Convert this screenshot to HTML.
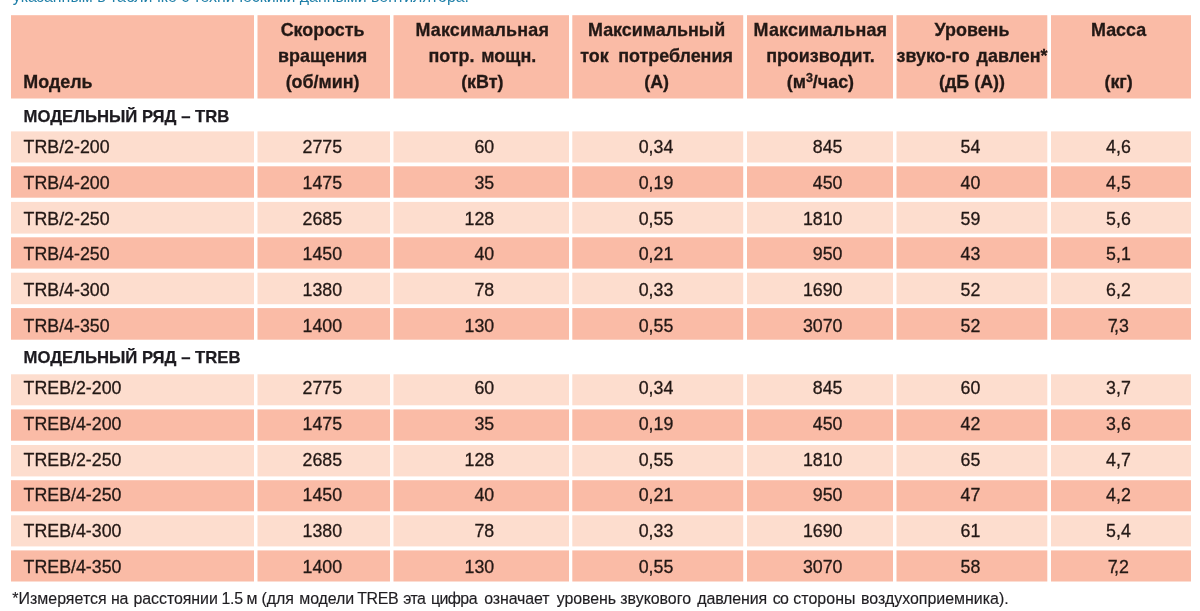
<!DOCTYPE html>
<html lang="ru"><head><meta charset="utf-8"><title>TRB / TREB</title>
<style>
html,body{margin:0;padding:0;background:#fff;}
body{width:1200px;height:611px;position:relative;overflow:hidden;font-family:"Liberation Sans",sans-serif;color:#231815;}
svg.bg{position:absolute;left:0;top:0;}
.t{position:absolute;white-space:nowrap;}
.h{font-weight:bold;font-size:17.9px;line-height:20px;text-align:center;width:200px;-webkit-text-stroke:0.3px #231815;}
.d{font-size:17.8px;line-height:20px;text-align:right;width:120px;-webkit-text-stroke:0.3px #231815;}
.m{font-size:17.8px;line-height:20px;-webkit-text-stroke:0.3px #231815;}
.s{font-weight:bold;font-size:16.7px;line-height:19px;color:#1d1b20;-webkit-text-stroke:0.25px #1d1b20;}
.f{font-size:15.94px;line-height:17px;color:#1f1d21;-webkit-text-stroke:0.15px #1f1d21;}
.b{font-size:15.9px;line-height:17px;color:#1e7fa8;}
sup{font-size:0.7em;line-height:0;vertical-align:baseline;position:relative;top:-0.47em;}
</style></head><body>

<svg class="bg" width="1200" height="611" viewBox="0 0 1200 611">
<rect x="11.0" y="15.2" width="243.0" height="83.3" fill="#fabba6"/>
<rect x="257.5" y="15.2" width="132.5" height="83.3" fill="#fabba6"/>
<rect x="393.5" y="15.2" width="175.5" height="83.3" fill="#fabba6"/>
<rect x="572.3" y="15.2" width="170.9" height="83.3" fill="#fabba6"/>
<rect x="747.0" y="15.2" width="146.0" height="83.3" fill="#fabba6"/>
<rect x="896.5" y="15.2" width="150.8" height="83.3" fill="#fabba6"/>
<rect x="1051.0" y="15.2" width="140.0" height="83.3" fill="#fabba6"/>
<rect x="11.0" y="131.4" width="243.0" height="31.1" fill="#fdddce"/>
<rect x="257.5" y="131.4" width="132.5" height="31.1" fill="#fdddce"/>
<rect x="393.5" y="131.4" width="175.5" height="31.1" fill="#fdddce"/>
<rect x="572.3" y="131.4" width="170.9" height="31.1" fill="#fdddce"/>
<rect x="747.0" y="131.4" width="146.0" height="31.1" fill="#fdddce"/>
<rect x="896.5" y="131.4" width="150.8" height="31.1" fill="#fdddce"/>
<rect x="1051.0" y="131.4" width="140.0" height="31.1" fill="#fdddce"/>
<rect x="11.0" y="166.3" width="243.0" height="31.4" fill="#fabba6"/>
<rect x="257.5" y="166.3" width="132.5" height="31.4" fill="#fabba6"/>
<rect x="393.5" y="166.3" width="175.5" height="31.4" fill="#fabba6"/>
<rect x="572.3" y="166.3" width="170.9" height="31.4" fill="#fabba6"/>
<rect x="747.0" y="166.3" width="146.0" height="31.4" fill="#fabba6"/>
<rect x="896.5" y="166.3" width="150.8" height="31.4" fill="#fabba6"/>
<rect x="1051.0" y="166.3" width="140.0" height="31.4" fill="#fabba6"/>
<rect x="11.0" y="201.9" width="243.0" height="31.7" fill="#fdddce"/>
<rect x="257.5" y="201.9" width="132.5" height="31.7" fill="#fdddce"/>
<rect x="393.5" y="201.9" width="175.5" height="31.7" fill="#fdddce"/>
<rect x="572.3" y="201.9" width="170.9" height="31.7" fill="#fdddce"/>
<rect x="747.0" y="201.9" width="146.0" height="31.7" fill="#fdddce"/>
<rect x="896.5" y="201.9" width="150.8" height="31.7" fill="#fdddce"/>
<rect x="1051.0" y="201.9" width="140.0" height="31.7" fill="#fdddce"/>
<rect x="11.0" y="237.3" width="243.0" height="31.3" fill="#fabba6"/>
<rect x="257.5" y="237.3" width="132.5" height="31.3" fill="#fabba6"/>
<rect x="393.5" y="237.3" width="175.5" height="31.3" fill="#fabba6"/>
<rect x="572.3" y="237.3" width="170.9" height="31.3" fill="#fabba6"/>
<rect x="747.0" y="237.3" width="146.0" height="31.3" fill="#fabba6"/>
<rect x="896.5" y="237.3" width="150.8" height="31.3" fill="#fabba6"/>
<rect x="1051.0" y="237.3" width="140.0" height="31.3" fill="#fabba6"/>
<rect x="11.0" y="272.7" width="243.0" height="31.5" fill="#fdddce"/>
<rect x="257.5" y="272.7" width="132.5" height="31.5" fill="#fdddce"/>
<rect x="393.5" y="272.7" width="175.5" height="31.5" fill="#fdddce"/>
<rect x="572.3" y="272.7" width="170.9" height="31.5" fill="#fdddce"/>
<rect x="747.0" y="272.7" width="146.0" height="31.5" fill="#fdddce"/>
<rect x="896.5" y="272.7" width="150.8" height="31.5" fill="#fdddce"/>
<rect x="1051.0" y="272.7" width="140.0" height="31.5" fill="#fdddce"/>
<rect x="11.0" y="308.1" width="243.0" height="31.6" fill="#fabba6"/>
<rect x="257.5" y="308.1" width="132.5" height="31.6" fill="#fabba6"/>
<rect x="393.5" y="308.1" width="175.5" height="31.6" fill="#fabba6"/>
<rect x="572.3" y="308.1" width="170.9" height="31.6" fill="#fabba6"/>
<rect x="747.0" y="308.1" width="146.0" height="31.6" fill="#fabba6"/>
<rect x="896.5" y="308.1" width="150.8" height="31.6" fill="#fabba6"/>
<rect x="1051.0" y="308.1" width="140.0" height="31.6" fill="#fabba6"/>
<rect x="11.0" y="374.3" width="243.0" height="31.0" fill="#fdddce"/>
<rect x="257.5" y="374.3" width="132.5" height="31.0" fill="#fdddce"/>
<rect x="393.5" y="374.3" width="175.5" height="31.0" fill="#fdddce"/>
<rect x="572.3" y="374.3" width="170.9" height="31.0" fill="#fdddce"/>
<rect x="747.0" y="374.3" width="146.0" height="31.0" fill="#fdddce"/>
<rect x="896.5" y="374.3" width="150.8" height="31.0" fill="#fdddce"/>
<rect x="1051.0" y="374.3" width="140.0" height="31.0" fill="#fdddce"/>
<rect x="11.0" y="409.4" width="243.0" height="31.3" fill="#fabba6"/>
<rect x="257.5" y="409.4" width="132.5" height="31.3" fill="#fabba6"/>
<rect x="393.5" y="409.4" width="175.5" height="31.3" fill="#fabba6"/>
<rect x="572.3" y="409.4" width="170.9" height="31.3" fill="#fabba6"/>
<rect x="747.0" y="409.4" width="146.0" height="31.3" fill="#fabba6"/>
<rect x="896.5" y="409.4" width="150.8" height="31.3" fill="#fabba6"/>
<rect x="1051.0" y="409.4" width="140.0" height="31.3" fill="#fabba6"/>
<rect x="11.0" y="445.0" width="243.0" height="31.4" fill="#fdddce"/>
<rect x="257.5" y="445.0" width="132.5" height="31.4" fill="#fdddce"/>
<rect x="393.5" y="445.0" width="175.5" height="31.4" fill="#fdddce"/>
<rect x="572.3" y="445.0" width="170.9" height="31.4" fill="#fdddce"/>
<rect x="747.0" y="445.0" width="146.0" height="31.4" fill="#fdddce"/>
<rect x="896.5" y="445.0" width="150.8" height="31.4" fill="#fdddce"/>
<rect x="1051.0" y="445.0" width="140.0" height="31.4" fill="#fdddce"/>
<rect x="11.0" y="480.2" width="243.0" height="31.1" fill="#fabba6"/>
<rect x="257.5" y="480.2" width="132.5" height="31.1" fill="#fabba6"/>
<rect x="393.5" y="480.2" width="175.5" height="31.1" fill="#fabba6"/>
<rect x="572.3" y="480.2" width="170.9" height="31.1" fill="#fabba6"/>
<rect x="747.0" y="480.2" width="146.0" height="31.1" fill="#fabba6"/>
<rect x="896.5" y="480.2" width="150.8" height="31.1" fill="#fabba6"/>
<rect x="1051.0" y="480.2" width="140.0" height="31.1" fill="#fabba6"/>
<rect x="11.0" y="515.3" width="243.0" height="31.1" fill="#fdddce"/>
<rect x="257.5" y="515.3" width="132.5" height="31.1" fill="#fdddce"/>
<rect x="393.5" y="515.3" width="175.5" height="31.1" fill="#fdddce"/>
<rect x="572.3" y="515.3" width="170.9" height="31.1" fill="#fdddce"/>
<rect x="747.0" y="515.3" width="146.0" height="31.1" fill="#fdddce"/>
<rect x="896.5" y="515.3" width="150.8" height="31.1" fill="#fdddce"/>
<rect x="1051.0" y="515.3" width="140.0" height="31.1" fill="#fdddce"/>
<rect x="11.0" y="550.4" width="243.0" height="31.1" fill="#fabba6"/>
<rect x="257.5" y="550.4" width="132.5" height="31.1" fill="#fabba6"/>
<rect x="393.5" y="550.4" width="175.5" height="31.1" fill="#fabba6"/>
<rect x="572.3" y="550.4" width="170.9" height="31.1" fill="#fabba6"/>
<rect x="747.0" y="550.4" width="146.0" height="31.1" fill="#fabba6"/>
<rect x="896.5" y="550.4" width="150.8" height="31.1" fill="#fabba6"/>
<rect x="1051.0" y="550.4" width="140.0" height="31.1" fill="#fabba6"/>
</svg>
<div class="t b" style="left:12.8px;top:-12px">указанным в табличке с техническими данными вентилятора.</div>
<div class="t h" style="left:23.3px;top:72px;text-align:left">Модель</div>
<div class="t h" style="left:222.6px;top:20px">Скорость</div>
<div class="t h" style="left:222.6px;top:46px">вращения</div>
<div class="t h" style="left:222.6px;top:72px">(об/мин)</div>
<div class="t h" style="left:382.3px;top:20px"><span style="letter-spacing:0.2px">Максимальная</span></div>
<div class="t h" style="left:382.3px;top:46px"><span style="word-spacing:2px">потр. мощн.</span></div>
<div class="t h" style="left:382.3px;top:72px">(кВт)</div>
<div class="t h" style="left:556.6px;top:20px">Максимальный</div>
<div class="t h" style="left:556.6px;top:46px"><span style="word-spacing:4.5px">ток потребления</span></div>
<div class="t h" style="left:556.6px;top:72px">(А)</div>
<div class="t h" style="left:720.4px;top:20px"><span style="letter-spacing:0.2px">Максимальная</span></div>
<div class="t h" style="left:720.4px;top:46px">производит.</div>
<div class="t h" style="left:720.4px;top:72px">(м<sup>3</sup>/час)</div>
<div class="t h" style="left:872.0px;top:20px">Уровень</div>
<div class="t h" style="left:872.0px;top:46px"><span style="word-spacing:2px">звуко-го давлен*</span></div>
<div class="t h" style="left:872.0px;top:72px">(дБ (А))</div>
<div class="t h" style="left:1018.6px;top:20px">Масса</div>
<div class="t h" style="left:1018.6px;top:72px">(кг)</div>
<div class="t s" style="left:23.5px;top:107px">МОДЕЛЬНЫЙ РЯД – TRB</div>
<div class="t m" style="left:23.6px;top:137px">TRB/2-200</div>
<div class="t d" style="left:222.1px;top:137px">2775</div>
<div class="t d" style="left:374.2px;top:137px">60</div>
<div class="t d" style="left:553.3px;top:137px">0,34</div>
<div class="t d" style="left:722.5px;top:137px">845</div>
<div class="t d" style="left:860.3px;top:137px">54</div>
<div class="t d" style="left:1010.8px;top:137px">4,6</div>
<div class="t m" style="left:23.6px;top:173px">TRB/4-200</div>
<div class="t d" style="left:222.1px;top:173px">1475</div>
<div class="t d" style="left:374.2px;top:173px">35</div>
<div class="t d" style="left:553.3px;top:173px">0,19</div>
<div class="t d" style="left:722.5px;top:173px">450</div>
<div class="t d" style="left:860.3px;top:173px">40</div>
<div class="t d" style="left:1010.8px;top:173px">4,5</div>
<div class="t m" style="left:23.6px;top:209px">TRB/2-250</div>
<div class="t d" style="left:222.1px;top:209px">2685</div>
<div class="t d" style="left:374.2px;top:209px">128</div>
<div class="t d" style="left:553.3px;top:209px">0,55</div>
<div class="t d" style="left:722.5px;top:209px">1810</div>
<div class="t d" style="left:860.3px;top:209px">59</div>
<div class="t d" style="left:1010.8px;top:209px">5,6</div>
<div class="t m" style="left:23.6px;top:244px">TRB/4-250</div>
<div class="t d" style="left:222.1px;top:244px">1450</div>
<div class="t d" style="left:374.2px;top:244px">40</div>
<div class="t d" style="left:553.3px;top:244px">0,21</div>
<div class="t d" style="left:722.5px;top:244px">950</div>
<div class="t d" style="left:860.3px;top:244px">43</div>
<div class="t d" style="left:1010.8px;top:244px">5,1</div>
<div class="t m" style="left:23.6px;top:280px">TRB/4-300</div>
<div class="t d" style="left:222.1px;top:280px">1380</div>
<div class="t d" style="left:374.2px;top:280px">78</div>
<div class="t d" style="left:553.3px;top:280px">0,33</div>
<div class="t d" style="left:722.5px;top:280px">1690</div>
<div class="t d" style="left:860.3px;top:280px">52</div>
<div class="t d" style="left:1010.8px;top:280px">6,2</div>
<div class="t m" style="left:23.6px;top:316px">TRB/4-350</div>
<div class="t d" style="left:222.1px;top:316px">1400</div>
<div class="t d" style="left:374.2px;top:316px">130</div>
<div class="t d" style="left:553.3px;top:316px">0,55</div>
<div class="t d" style="left:722.5px;top:316px">3070</div>
<div class="t d" style="left:860.3px;top:316px">52</div>
<div class="t d" style="left:1008.9px;top:316px"><span style="letter-spacing:-3.5px">7</span>,3</div>
<div class="t s" style="left:23.5px;top:348px">МОДЕЛЬНЫЙ РЯД – TREB</div>
<div class="t m" style="left:23.6px;top:378px">TREB/2-200</div>
<div class="t d" style="left:222.1px;top:378px">2775</div>
<div class="t d" style="left:374.2px;top:378px">60</div>
<div class="t d" style="left:553.3px;top:378px">0,34</div>
<div class="t d" style="left:722.5px;top:378px">845</div>
<div class="t d" style="left:860.3px;top:378px">60</div>
<div class="t d" style="left:1010.8px;top:378px">3,7</div>
<div class="t m" style="left:23.6px;top:414px">TREB/4-200</div>
<div class="t d" style="left:222.1px;top:414px">1475</div>
<div class="t d" style="left:374.2px;top:414px">35</div>
<div class="t d" style="left:553.3px;top:414px">0,19</div>
<div class="t d" style="left:722.5px;top:414px">450</div>
<div class="t d" style="left:860.3px;top:414px">42</div>
<div class="t d" style="left:1010.8px;top:414px">3,6</div>
<div class="t m" style="left:23.6px;top:450px">TREB/2-250</div>
<div class="t d" style="left:222.1px;top:450px">2685</div>
<div class="t d" style="left:374.2px;top:450px">128</div>
<div class="t d" style="left:553.3px;top:450px">0,55</div>
<div class="t d" style="left:722.5px;top:450px">1810</div>
<div class="t d" style="left:860.3px;top:450px">65</div>
<div class="t d" style="left:1010.8px;top:450px">4,7</div>
<div class="t m" style="left:23.6px;top:485px">TREB/4-250</div>
<div class="t d" style="left:222.1px;top:485px">1450</div>
<div class="t d" style="left:374.2px;top:485px">40</div>
<div class="t d" style="left:553.3px;top:485px">0,21</div>
<div class="t d" style="left:722.5px;top:485px">950</div>
<div class="t d" style="left:860.3px;top:485px">47</div>
<div class="t d" style="left:1010.8px;top:485px">4,2</div>
<div class="t m" style="left:23.6px;top:521px">TREB/4-300</div>
<div class="t d" style="left:222.1px;top:521px">1380</div>
<div class="t d" style="left:374.2px;top:521px">78</div>
<div class="t d" style="left:553.3px;top:521px">0,33</div>
<div class="t d" style="left:722.5px;top:521px">1690</div>
<div class="t d" style="left:860.3px;top:521px">61</div>
<div class="t d" style="left:1010.8px;top:521px">5,4</div>
<div class="t m" style="left:23.6px;top:557px">TREB/4-350</div>
<div class="t d" style="left:222.1px;top:557px">1400</div>
<div class="t d" style="left:374.2px;top:557px">130</div>
<div class="t d" style="left:553.3px;top:557px">0,55</div>
<div class="t d" style="left:722.5px;top:557px">3070</div>
<div class="t d" style="left:860.3px;top:557px">58</div>
<div class="t d" style="left:1008.9px;top:557px"><span style="letter-spacing:-3.5px">7</span>,2</div>
<div class="t f" style="left:0;top:590px;width:1200px;height:17px"><span style="position:absolute;left:12.15px;top:0;letter-spacing:0.04px">*Измеряется</span> <span style="position:absolute;left:110.96px;top:0;letter-spacing:-0.32px">на</span> <span style="position:absolute;left:133.45px;top:0;letter-spacing:-0.05px">расстоянии</span> <span style="position:absolute;left:221.45px;top:0;letter-spacing:-0.30px">1.5</span> <span style="position:absolute;left:246.45px;top:0;letter-spacing:0.00px">м</span> <span style="position:absolute;left:261.45px;top:0;letter-spacing:0.01px">(для</span> <span style="position:absolute;left:299.30px;top:0;letter-spacing:-0.11px">модели</span> <span style="position:absolute;left:357.20px;top:0;letter-spacing:-0.33px">TREB</span> <span style="position:absolute;left:403.25px;top:0;letter-spacing:-0.58px">эта</span> <span style="position:absolute;left:430.96px;top:0;letter-spacing:-0.58px">цифра</span> <span style="position:absolute;left:484.25px;top:0;letter-spacing:-0.12px">означает</span> <span style="position:absolute;left:556.76px;top:0;letter-spacing:-0.09px">уровень</span> <span style="position:absolute;left:620.30px;top:0;letter-spacing:-0.02px">звукового</span> <span style="position:absolute;left:697.20px;top:0;letter-spacing:-0.11px">давления</span> <span style="position:absolute;left:772.64px;top:0;letter-spacing:-0.80px">со</span> <span style="position:absolute;left:793.30px;top:0;letter-spacing:0.03px">стороны</span> <span style="position:absolute;left:860.96px;top:0;letter-spacing:0.00px">воздухоприемника).</span></div>
</body></html>
